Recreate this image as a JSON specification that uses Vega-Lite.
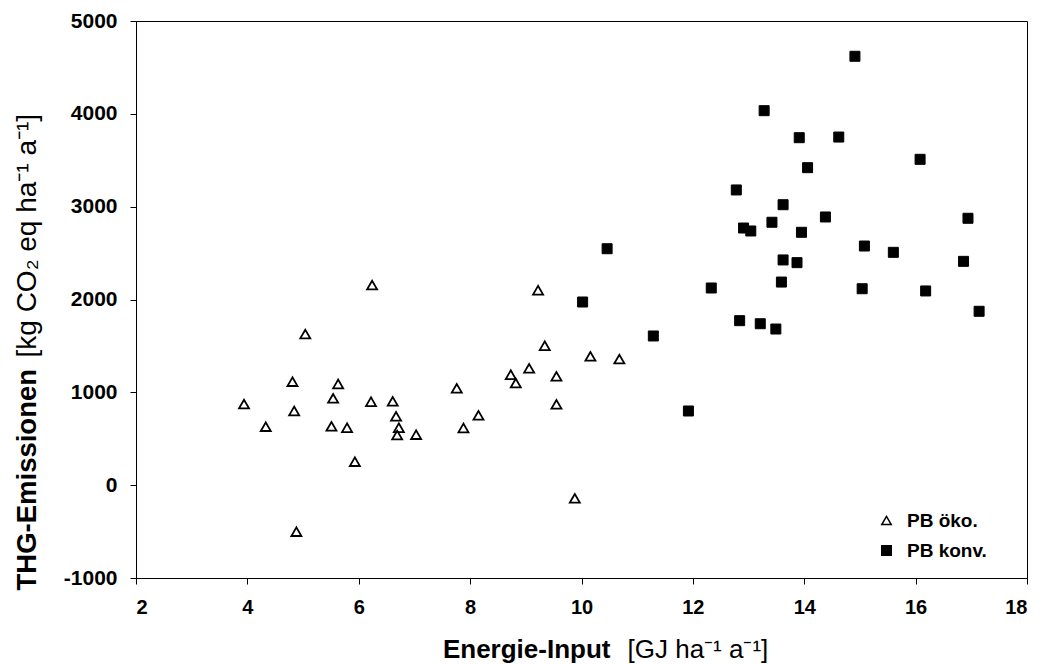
{
  "$schema": "https://vega.github.io/schema/vega-lite/v6.json",
  "width": 891,
  "height": 557,
  "autosize": "none",
  "padding": {"left": 136, "top": 21, "right": 19, "bottom": 86},
  "background": "#ffffff",
  "config": {
    "font": "Liberation Sans",
    "view": {"stroke": "#000000", "strokeWidth": 1},
    "axis": {"grid": false, "domainColor": "#000000", "tickColor": "#000000", "labelColor": "#000000", "titleColor": "#000000", "domainWidth": 1, "tickWidth": 1},
    "legend": {
      "orient": "none", "legendX": 741, "legendY": 490,
      "labelFontSize": 19, "labelFontWeight": "bold", "labelColor": "#000000",
      "symbolSize": 90, "symbolStrokeWidth": 1.5,
      "rowPadding": 10, "labelOffset": 11
    }
  },
  "data": {"values": [
    {"energie": 6.24, "thg": 2156, "series": "PB öko."},
    {"energie": 5.04, "thg": 1628, "series": "PB öko."},
    {"energie": 4.81, "thg": 1115, "series": "PB öko."},
    {"energie": 5.63, "thg": 1090, "series": "PB öko."},
    {"energie": 3.94, "thg": 874, "series": "PB öko."},
    {"energie": 4.84, "thg": 799, "series": "PB öko."},
    {"energie": 5.54, "thg": 936, "series": "PB öko."},
    {"energie": 6.22, "thg": 899, "series": "PB öko."},
    {"energie": 6.61, "thg": 903, "series": "PB öko."},
    {"energie": 7.76, "thg": 1043, "series": "PB öko."},
    {"energie": 6.67, "thg": 742, "series": "PB öko."},
    {"energie": 4.33, "thg": 630, "series": "PB öko."},
    {"energie": 5.51, "thg": 634, "series": "PB öko."},
    {"energie": 5.79, "thg": 619, "series": "PB öko."},
    {"energie": 6.72, "thg": 619, "series": "PB öko."},
    {"energie": 6.69, "thg": 540, "series": "PB öko."},
    {"energie": 7.03, "thg": 544, "series": "PB öko."},
    {"energie": 5.93, "thg": 253, "series": "PB öko."},
    {"energie": 4.88, "thg": -501, "series": "PB öko."},
    {"energie": 7.88, "thg": 616, "series": "PB öko."},
    {"energie": 8.15, "thg": 753, "series": "PB öko."},
    {"energie": 9.22, "thg": 2100, "series": "PB öko."},
    {"energie": 9.34, "thg": 1502, "series": "PB öko."},
    {"energie": 10.16, "thg": 1388, "series": "PB öko."},
    {"energie": 10.68, "thg": 1359, "series": "PB öko."},
    {"energie": 9.06, "thg": 1259, "series": "PB öko."},
    {"energie": 8.73, "thg": 1190, "series": "PB öko."},
    {"energie": 8.82, "thg": 1100, "series": "PB öko."},
    {"energie": 9.55, "thg": 1173, "series": "PB öko."},
    {"energie": 9.55, "thg": 871, "series": "PB öko."},
    {"energie": 9.88, "thg": -141, "series": "PB öko."},
    {"energie": 10.02, "thg": 1973, "series": "PB konv."},
    {"energie": 11.29, "thg": 1607, "series": "PB konv."},
    {"energie": 11.92, "thg": 799, "series": "PB konv."},
    {"energie": 10.46, "thg": 2547, "series": "PB konv."},
    {"energie": 14.91, "thg": 4620, "series": "PB konv."},
    {"energie": 13.28, "thg": 4034, "series": "PB konv."},
    {"energie": 13.91, "thg": 3743, "series": "PB konv."},
    {"energie": 14.62, "thg": 3750, "series": "PB konv."},
    {"energie": 16.08, "thg": 3510, "series": "PB konv."},
    {"energie": 14.06, "thg": 3420, "series": "PB konv."},
    {"energie": 12.78, "thg": 3180, "series": "PB konv."},
    {"energie": 13.62, "thg": 3021, "series": "PB konv."},
    {"energie": 14.38, "thg": 2889, "series": "PB konv."},
    {"energie": 16.94, "thg": 2875, "series": "PB konv."},
    {"energie": 13.42, "thg": 2832, "series": "PB konv."},
    {"energie": 12.91, "thg": 2770, "series": "PB konv."},
    {"energie": 13.04, "thg": 2738, "series": "PB konv."},
    {"energie": 13.95, "thg": 2724, "series": "PB konv."},
    {"energie": 15.08, "thg": 2576, "series": "PB konv."},
    {"energie": 15.60, "thg": 2508, "series": "PB konv."},
    {"energie": 13.62, "thg": 2426, "series": "PB konv."},
    {"energie": 13.87, "thg": 2397, "series": "PB konv."},
    {"energie": 16.86, "thg": 2411, "series": "PB konv."},
    {"energie": 13.59, "thg": 2188, "series": "PB konv."},
    {"energie": 12.33, "thg": 2124, "series": "PB konv."},
    {"energie": 15.04, "thg": 2116, "series": "PB konv."},
    {"energie": 16.18, "thg": 2092, "series": "PB konv."},
    {"energie": 17.14, "thg": 1873, "series": "PB konv."},
    {"energie": 12.84, "thg": 1772, "series": "PB konv."},
    {"energie": 13.21, "thg": 1739, "series": "PB konv."},
    {"energie": 13.49, "thg": 1682, "series": "PB konv."}
  ]},
  "resolve": {"axis": {"x": "independent", "y": "independent"}},
  "layer": [
    {
      "transform": [{"filter": "datum.series === 'PB öko.'"}],
      "mark": {"type": "point", "strokeWidth": 1.8, "opacity": 1, "size": 100},
      "encoding": {
        "x": {"field": "energie", "type": "quantitative", "scale": {"domain": [2, 18], "nice": false, "zero": false},
          "axis": {"title": "Energie-Input", "titleFontSize": 26, "titleFontWeight": "bold", "titleAlign": "right", "titleBaseline": "alphabetic", "titleX": 474, "titleY": 79,
            "values": [2, 4, 6, 8, 10, 12, 14, 16, 18], "labelExpr": "'' + datum.value", "labelFontSize": 20, "labelFontWeight": "bold", "tickSize": 6, "labelPadding": 13}},
        "y": {"field": "thg", "type": "quantitative", "scale": {"domain": [-1000, 5000], "nice": false, "zero": false},
          "axis": {"title": "THG-Emissionen", "titleFontSize": 27.5, "titleFontWeight": "bold", "titleAngle": 270, "titleAlign": "left", "titleBaseline": "alphabetic", "titleX": -101, "titleY": 569,
            "values": [-1000, 0, 1000, 2000, 3000, 4000, 5000], "labelExpr": "'' + datum.value", "labelFontSize": 21, "labelFontWeight": "bold", "tickSize": 6, "labelPadding": 13}},
        "fill": {"field": "series", "type": "nominal", "title": null, "scale": {"domain": ["PB öko.", "PB konv."], "range": ["#ffffff", "#000000"]}},
        "stroke": {"field": "series", "type": "nominal", "title": null, "scale": {"domain": ["PB öko.", "PB konv."], "range": ["#000000", "#000000"]}},
        "shape": {"field": "series", "type": "nominal", "title": null, "scale": {"domain": ["PB öko.", "PB konv."], "range": ["triangle-up", "square"]}}
      }
    },
    {
      "transform": [{"filter": "datum.series === 'PB konv.'"}],
      "mark": {"type": "point", "strokeWidth": 1, "opacity": 1, "size": 100},
      "encoding": {
        "x": {"field": "energie", "type": "quantitative",
          "axis": {"orient": "bottom", "title": "[GJ ha⁻¹ a⁻¹]", "titleFontSize": 26, "titleFontWeight": "normal", "titleAlign": "left", "titleBaseline": "alphabetic", "titleX": 491, "titleY": 79,
            "labels": false, "ticks": false, "domain": false}},
        "y": {"field": "thg", "type": "quantitative",
          "axis": {"orient": "left", "title": "[kg CO₂ eq  ha⁻¹  a⁻¹]", "titleFontSize": 28, "titleFontWeight": "normal", "titleAngle": 270, "titleAlign": "left", "titleBaseline": "alphabetic", "titleX": -101, "titleY": 336,
            "labels": false, "ticks": false, "domain": false}},
        "fill": {"field": "series", "type": "nominal", "title": null},
        "stroke": {"field": "series", "type": "nominal", "title": null},
        "shape": {"field": "series", "type": "nominal", "title": null}
      }
    }
  ]
}
